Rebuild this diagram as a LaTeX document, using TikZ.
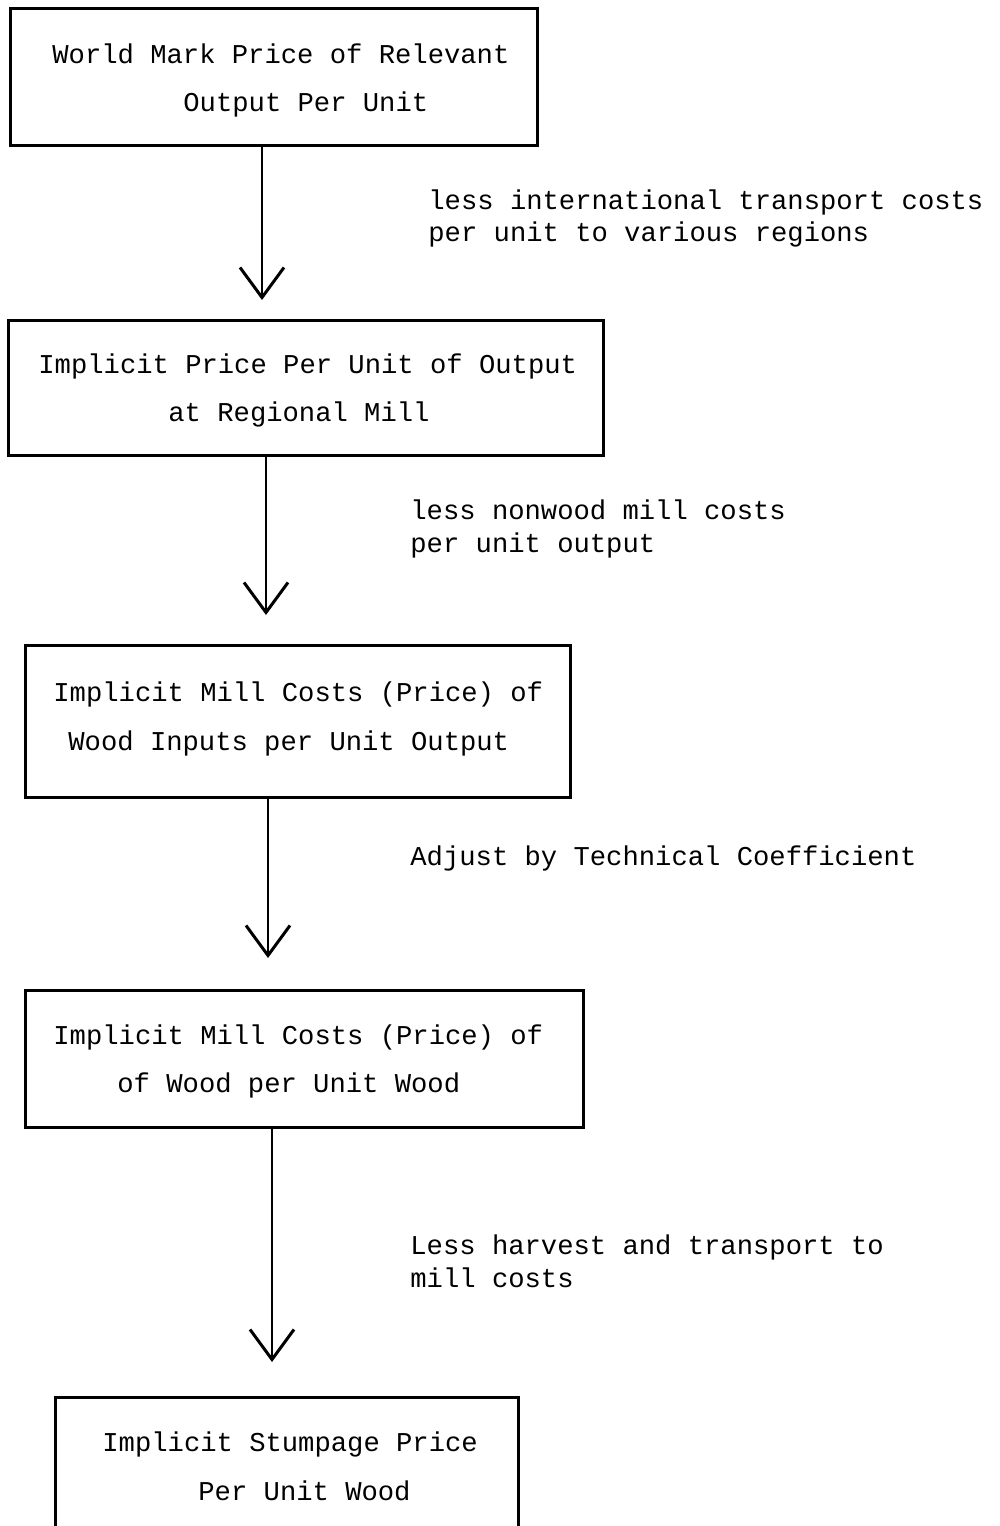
\documentclass[tikz,border=0pt]{standalone}
\usepackage{fontspec}
\setmonofont{Liberation Mono}
\usetikzlibrary{arrows.meta}

\begin{document}
\begin{tikzpicture}[x=0.5pt,y=-0.5pt,
		box/.style={draw,line width=1.5pt,inner sep=0pt},
		txt/.style={anchor=base west,inner sep=0pt,font=\ttfamily\fontsize{13.6}{16}\selectfont},
		flow/.style={line width=1.4pt,-{Straight Barb[length=15pt,width=22pt,line width=1.5pt]}}]
			\useasboundingbox (0,0) rectangle (1000,1526);
			\clip (0,0) rectangle (1000,1526);
			% boxes
			\node[box,minimum width=263.5pt,minimum height=68.5pt] (b1) at (273.5,76.5) {};
			\node[box,minimum width=297.5pt,minimum height=67.5pt] (b2) at (305.5,387.5) {};
			\node[box,minimum width=272.5pt,minimum height=76pt] (b3) at (297.5,721) {};
			\node[box,minimum width=279pt,minimum height=68.5pt] (b4) at (304,1058.5) {};
			\node[box,minimum width=231.5pt,minimum height=81.5pt] (b5) at (286.5,1478.5) {};
			% box texts
			\node[txt] (t1a) at (52,63) {World Mark Price of Relevant};
			\node[txt] (t1b) at (183,111) {Output Per Unit};
			\node[txt] (t2a) at (38,373) {Implicit Price Per Unit of Output};
			\node[txt] (t2b) at (168,421) {at Regional Mill};
			\node[txt] (t3a) at (53,701) {Implicit Mill Costs (Price) of};
			\node[txt] (t3b) at (68,750) {Wood Inputs per Unit Output};
			\node[txt] (t4a) at (53,1044) {Implicit Mill Costs (Price) of};
			\node[txt] (t4b) at (117,1092) {of Wood per Unit Wood};
			\node[txt] (t5a) at (102,1451) {Implicit Stumpage Price};
			\node[txt] (t5b) at (198,1500) {Per Unit Wood};
			% arrow tips
			\coordinate (tip1) at (262,300);
			\coordinate (tip2) at (266,615);
			\coordinate (tip3) at (268,958);
			\coordinate (tip4) at (272,1362);
			\draw[flow] (b1.south -| tip1) -- (tip1);
			\draw[flow] (b2.south -| tip2) -- (tip2);
			\draw[flow] (b3.south -| tip3) -- (tip3);
			\draw[flow] (b4.south -| tip4) -- (tip4);
			% step labels
			\node[txt] (l1a) at (428,209) {less international transport costs};
			\node[txt] (l1b) at (428,241) {per unit to various regions};
			\node[txt] (l2a) at (410,519) {less nonwood mill costs};
			\node[txt] (l2b) at (410,552) {per unit output};
			\node[txt] (l3) at (410,865) {Adjust by Technical Coefficient};
			\node[txt] (l4a) at (410,1254) {Less harvest and transport to};
			\node[txt] (l4b) at (410,1287) {mill costs};
		\end{tikzpicture}
\end{document}
